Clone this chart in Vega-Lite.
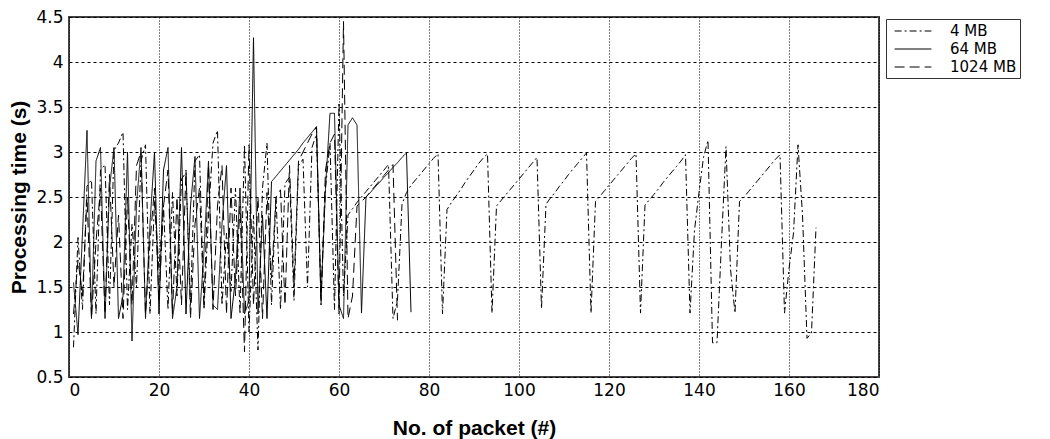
{
  "$schema": "https://vega.github.io/schema/vega-lite/v6.json",
  "autosize": {"type": "none"},
  "padding": {"left": 69, "top": 17, "right": 171, "bottom": 62},
  "width": 810,
  "height": 360,
  "background": "white",
  "config": {
    "view": {"stroke": "#444", "strokeWidth": 2},
    "axis": {"domain": false, "ticks": false, "gridColor": "#000", "gridOpacity": 1, "gridWidth": 1,
      "labelFont": "DejaVu Sans", "labelFontSize": 17, "labelColor": "black",
      "titleFont": "Liberation Sans", "titleFontSize": 21, "titleFontWeight": "bold", "titleColor": "black"}
  },
  "data": {"values": [
    {"size":"4 MB","packet":1,"time":0.83},{"size":"4 MB","packet":2,"time":2.05},{"size":"4 MB","packet":3,"time":1.25},{"size":"4 MB","packet":4,"time":2.62},{"size":"4 MB","packet":5,"time":2.69},{"size":"4 MB","packet":6,"time":1.2},{"size":"4 MB","packet":7,"time":2.8},{"size":"4 MB","packet":8,"time":2.86},{"size":"4 MB","packet":9,"time":1.3},{"size":"4 MB","packet":10,"time":3.02},
    {"size":"4 MB","packet":11,"time":3.1},{"size":"4 MB","packet":12,"time":3.22},{"size":"4 MB","packet":13,"time":1.25},{"size":"4 MB","packet":14,"time":2.2},{"size":"4 MB","packet":15,"time":1.5},{"size":"4 MB","packet":16,"time":2.9},{"size":"4 MB","packet":17,"time":3.08},{"size":"4 MB","packet":18,"time":1.2},{"size":"4 MB","packet":19,"time":2.45},{"size":"4 MB","packet":20,"time":1.7},
    {"size":"4 MB","packet":21,"time":2.4},{"size":"4 MB","packet":22,"time":1.25},{"size":"4 MB","packet":23,"time":2.55},{"size":"4 MB","packet":24,"time":1.4},{"size":"4 MB","packet":25,"time":2.7},{"size":"4 MB","packet":26,"time":2.77},{"size":"4 MB","packet":27,"time":1.3},{"size":"4 MB","packet":28,"time":2.9},{"size":"4 MB","packet":29,"time":2.97},{"size":"4 MB","packet":30,"time":1.25},
    {"size":"4 MB","packet":31,"time":2.3},{"size":"4 MB","packet":32,"time":3.1},{"size":"4 MB","packet":33,"time":3.24},{"size":"4 MB","packet":34,"time":1.3},{"size":"4 MB","packet":35,"time":2.1},{"size":"4 MB","packet":36,"time":1.45},{"size":"4 MB","packet":37,"time":2.6},{"size":"4 MB","packet":38,"time":1.2},{"size":"4 MB","packet":39,"time":3.08},{"size":"4 MB","packet":40,"time":1.0},
    {"size":"4 MB","packet":41,"time":2.3},{"size":"4 MB","packet":42,"time":0.8},{"size":"4 MB","packet":43,"time":2.6},{"size":"4 MB","packet":44,"time":3.1},{"size":"4 MB","packet":45,"time":1.3},{"size":"4 MB","packet":46,"time":2.5},{"size":"4 MB","packet":47,"time":1.25},{"size":"4 MB","packet":48,"time":2.65},{"size":"4 MB","packet":49,"time":2.72},{"size":"4 MB","packet":50,"time":1.35},
    {"size":"4 MB","packet":51,"time":2.85},{"size":"4 MB","packet":52,"time":2.92},{"size":"4 MB","packet":53,"time":1.5},{"size":"4 MB","packet":54,"time":3.05},{"size":"4 MB","packet":55,"time":3.2},{"size":"4 MB","packet":56,"time":1.4},{"size":"4 MB","packet":57,"time":2.6},{"size":"4 MB","packet":58,"time":3.1},{"size":"4 MB","packet":59,"time":1.25},{"size":"4 MB","packet":60,"time":3.55},
    {"size":"4 MB","packet":61,"time":1.4},{"size":"4 MB","packet":62,"time":2.3},{"size":"4 MB","packet":63,"time":2.37},{"size":"4 MB","packet":64,"time":2.44},{"size":"4 MB","packet":65,"time":2.5},{"size":"4 MB","packet":66,"time":2.56},{"size":"4 MB","packet":67,"time":2.62},{"size":"4 MB","packet":68,"time":2.68},{"size":"4 MB","packet":69,"time":2.74},{"size":"4 MB","packet":70,"time":2.8},
    {"size":"4 MB","packet":71,"time":2.86},{"size":"4 MB","packet":72,"time":1.15},{"size":"4 MB","packet":73,"time":1.35},{"size":"4 MB","packet":74,"time":2.42},{"size":"4 MB","packet":75,"time":2.55},{"size":"4 MB","packet":76,"time":2.63},{"size":"4 MB","packet":77,"time":2.69},{"size":"4 MB","packet":78,"time":2.75},{"size":"4 MB","packet":79,"time":2.81},{"size":"4 MB","packet":80,"time":2.87},
    {"size":"4 MB","packet":81,"time":2.93},{"size":"4 MB","packet":82,"time":2.98},{"size":"4 MB","packet":83,"time":1.2},{"size":"4 MB","packet":84,"time":2.36},{"size":"4 MB","packet":85,"time":2.44},{"size":"4 MB","packet":86,"time":2.51},{"size":"4 MB","packet":87,"time":2.58},{"size":"4 MB","packet":88,"time":2.66},{"size":"4 MB","packet":89,"time":2.73},{"size":"4 MB","packet":90,"time":2.8},
    {"size":"4 MB","packet":91,"time":2.87},{"size":"4 MB","packet":92,"time":2.93},{"size":"4 MB","packet":93,"time":2.98},{"size":"4 MB","packet":94,"time":1.21},{"size":"4 MB","packet":95,"time":2.4},{"size":"4 MB","packet":96,"time":2.46},{"size":"4 MB","packet":97,"time":2.52},{"size":"4 MB","packet":98,"time":2.58},{"size":"4 MB","packet":99,"time":2.64},{"size":"4 MB","packet":100,"time":2.7},
    {"size":"4 MB","packet":101,"time":2.76},{"size":"4 MB","packet":102,"time":2.82},{"size":"4 MB","packet":103,"time":2.88},{"size":"4 MB","packet":104,"time":2.94},{"size":"4 MB","packet":105,"time":1.26},{"size":"4 MB","packet":106,"time":2.42},{"size":"4 MB","packet":107,"time":2.49},{"size":"4 MB","packet":108,"time":2.55},{"size":"4 MB","packet":109,"time":2.62},{"size":"4 MB","packet":110,"time":2.68},
    {"size":"4 MB","packet":111,"time":2.75},{"size":"4 MB","packet":112,"time":2.81},{"size":"4 MB","packet":113,"time":2.87},{"size":"4 MB","packet":114,"time":2.93},{"size":"4 MB","packet":115,"time":2.99},{"size":"4 MB","packet":116,"time":1.21},{"size":"4 MB","packet":117,"time":2.45},{"size":"4 MB","packet":118,"time":2.51},{"size":"4 MB","packet":119,"time":2.57},{"size":"4 MB","packet":120,"time":2.63},
    {"size":"4 MB","packet":121,"time":2.69},{"size":"4 MB","packet":122,"time":2.75},{"size":"4 MB","packet":123,"time":2.81},{"size":"4 MB","packet":124,"time":2.87},{"size":"4 MB","packet":125,"time":2.93},{"size":"4 MB","packet":126,"time":2.98},{"size":"4 MB","packet":127,"time":1.21},{"size":"4 MB","packet":128,"time":2.41},{"size":"4 MB","packet":129,"time":2.47},{"size":"4 MB","packet":130,"time":2.53},
    {"size":"4 MB","packet":131,"time":2.59},{"size":"4 MB","packet":132,"time":2.66},{"size":"4 MB","packet":133,"time":2.72},{"size":"4 MB","packet":134,"time":2.78},{"size":"4 MB","packet":135,"time":2.84},{"size":"4 MB","packet":136,"time":2.9},{"size":"4 MB","packet":137,"time":2.97},{"size":"4 MB","packet":138,"time":1.21},{"size":"4 MB","packet":139,"time":2.13},{"size":"4 MB","packet":140,"time":2.55},
    {"size":"4 MB","packet":141,"time":2.94},{"size":"4 MB","packet":142,"time":3.13},{"size":"4 MB","packet":143,"time":0.88},{"size":"4 MB","packet":144,"time":0.88},{"size":"4 MB","packet":145,"time":2.0},{"size":"4 MB","packet":146,"time":3.06},{"size":"4 MB","packet":147,"time":1.7},{"size":"4 MB","packet":148,"time":1.21},{"size":"4 MB","packet":149,"time":2.45},{"size":"4 MB","packet":150,"time":2.5},
    {"size":"4 MB","packet":151,"time":2.56},{"size":"4 MB","packet":152,"time":2.62},{"size":"4 MB","packet":153,"time":2.68},{"size":"4 MB","packet":154,"time":2.74},{"size":"4 MB","packet":155,"time":2.8},{"size":"4 MB","packet":156,"time":2.86},{"size":"4 MB","packet":157,"time":2.92},{"size":"4 MB","packet":158,"time":2.97},{"size":"4 MB","packet":159,"time":1.21},{"size":"4 MB","packet":160,"time":1.7},
    {"size":"4 MB","packet":161,"time":2.1},{"size":"4 MB","packet":162,"time":3.08},{"size":"4 MB","packet":163,"time":2.3},{"size":"4 MB","packet":164,"time":0.93},{"size":"4 MB","packet":165,"time":0.99},{"size":"4 MB","packet":166,"time":2.16},

    {"size":"64 MB","packet":1,"time":1.55},{"size":"64 MB","packet":2,"time":0.97},{"size":"64 MB","packet":3,"time":2.1},{"size":"64 MB","packet":4,"time":3.24},{"size":"64 MB","packet":5,"time":1.15},{"size":"64 MB","packet":6,"time":2.9},{"size":"64 MB","packet":7,"time":3.05},{"size":"64 MB","packet":8,"time":1.15},{"size":"64 MB","packet":9,"time":2.6},{"size":"64 MB","packet":10,"time":3.05},
    {"size":"64 MB","packet":11,"time":1.15},{"size":"64 MB","packet":12,"time":1.4},{"size":"64 MB","packet":13,"time":3.0},{"size":"64 MB","packet":14,"time":0.9},{"size":"64 MB","packet":15,"time":2.4},{"size":"64 MB","packet":16,"time":3.05},{"size":"64 MB","packet":17,"time":1.15},{"size":"64 MB","packet":18,"time":2.2},{"size":"64 MB","packet":19,"time":3.0},{"size":"64 MB","packet":20,"time":1.2},
    {"size":"64 MB","packet":21,"time":2.8},{"size":"64 MB","packet":22,"time":3.05},{"size":"64 MB","packet":23,"time":1.15},{"size":"64 MB","packet":24,"time":1.5},{"size":"64 MB","packet":25,"time":3.05},{"size":"64 MB","packet":26,"time":1.2},{"size":"64 MB","packet":27,"time":2.4},{"size":"64 MB","packet":28,"time":2.95},{"size":"64 MB","packet":29,"time":1.15},{"size":"64 MB","packet":30,"time":1.9},
    {"size":"64 MB","packet":31,"time":2.9},{"size":"64 MB","packet":32,"time":1.3},{"size":"64 MB","packet":33,"time":1.25},{"size":"64 MB","packet":34,"time":2.2},{"size":"64 MB","packet":35,"time":2.85},{"size":"64 MB","packet":36,"time":1.15},{"size":"64 MB","packet":37,"time":1.6},{"size":"64 MB","packet":38,"time":2.6},{"size":"64 MB","packet":39,"time":1.2},{"size":"64 MB","packet":40,"time":1.35},
    {"size":"64 MB","packet":41,"time":4.27},{"size":"64 MB","packet":42,"time":1.2},{"size":"64 MB","packet":43,"time":2.3},{"size":"64 MB","packet":44,"time":1.15},{"size":"64 MB","packet":45,"time":2.67},{"size":"64 MB","packet":46,"time":2.73},{"size":"64 MB","packet":47,"time":2.79},{"size":"64 MB","packet":48,"time":2.85},{"size":"64 MB","packet":49,"time":2.91},{"size":"64 MB","packet":50,"time":2.97},
    {"size":"64 MB","packet":51,"time":3.03},{"size":"64 MB","packet":52,"time":3.1},{"size":"64 MB","packet":53,"time":3.16},{"size":"64 MB","packet":54,"time":3.22},{"size":"64 MB","packet":55,"time":3.28},{"size":"64 MB","packet":56,"time":1.35},{"size":"64 MB","packet":57,"time":2.6},{"size":"64 MB","packet":58,"time":3.43},{"size":"64 MB","packet":59,"time":3.43},{"size":"64 MB","packet":60,"time":1.3},
    {"size":"64 MB","packet":61,"time":1.15},{"size":"64 MB","packet":62,"time":3.3},{"size":"64 MB","packet":63,"time":3.38},{"size":"64 MB","packet":64,"time":3.3},{"size":"64 MB","packet":65,"time":1.21},{"size":"64 MB","packet":66,"time":2.5},{"size":"64 MB","packet":67,"time":2.55},{"size":"64 MB","packet":68,"time":2.61},{"size":"64 MB","packet":69,"time":2.66},{"size":"64 MB","packet":70,"time":2.72},
    {"size":"64 MB","packet":71,"time":2.77},{"size":"64 MB","packet":72,"time":2.83},{"size":"64 MB","packet":73,"time":2.88},{"size":"64 MB","packet":74,"time":2.94},{"size":"64 MB","packet":75,"time":2.99},{"size":"64 MB","packet":76,"time":1.22},

    {"size":"1024 MB","packet":1,"time":1.2},{"size":"1024 MB","packet":2,"time":1.8},{"size":"1024 MB","packet":3,"time":1.4},{"size":"1024 MB","packet":4,"time":2.5},{"size":"1024 MB","packet":5,"time":1.15},{"size":"1024 MB","packet":6,"time":2.0},{"size":"1024 MB","packet":7,"time":2.6},{"size":"1024 MB","packet":8,"time":1.2},{"size":"1024 MB","packet":9,"time":2.75},{"size":"1024 MB","packet":10,"time":1.5},
    {"size":"1024 MB","packet":11,"time":2.3},{"size":"1024 MB","packet":12,"time":1.15},{"size":"1024 MB","packet":13,"time":2.5},{"size":"1024 MB","packet":14,"time":1.3},{"size":"1024 MB","packet":15,"time":2.85},{"size":"1024 MB","packet":16,"time":3.0},{"size":"1024 MB","packet":17,"time":1.2},{"size":"1024 MB","packet":18,"time":2.0},{"size":"1024 MB","packet":19,"time":2.6},{"size":"1024 MB","packet":20,"time":1.35},
    {"size":"1024 MB","packet":21,"time":2.4},{"size":"1024 MB","packet":22,"time":2.8},{"size":"1024 MB","packet":23,"time":1.2},{"size":"1024 MB","packet":24,"time":2.5},{"size":"1024 MB","packet":25,"time":1.3},{"size":"1024 MB","packet":26,"time":2.8},{"size":"1024 MB","packet":27,"time":1.15},{"size":"1024 MB","packet":28,"time":2.2},{"size":"1024 MB","packet":29,"time":2.6},{"size":"1024 MB","packet":30,"time":1.3},
    {"size":"1024 MB","packet":31,"time":2.85},{"size":"1024 MB","packet":32,"time":1.25},{"size":"1024 MB","packet":33,"time":2.4},{"size":"1024 MB","packet":34,"time":2.85},{"size":"1024 MB","packet":35,"time":1.2},{"size":"1024 MB","packet":36,"time":2.6},{"size":"1024 MB","packet":37,"time":1.4},{"size":"1024 MB","packet":38,"time":2.4},{"size":"1024 MB","packet":39,"time":0.78},{"size":"1024 MB","packet":40,"time":3.08},
    {"size":"1024 MB","packet":41,"time":1.3},{"size":"1024 MB","packet":42,"time":2.5},{"size":"1024 MB","packet":43,"time":1.15},{"size":"1024 MB","packet":44,"time":2.55},{"size":"1024 MB","packet":45,"time":1.6},{"size":"1024 MB","packet":46,"time":2.5},{"size":"1024 MB","packet":47,"time":2.58},{"size":"1024 MB","packet":48,"time":1.3},{"size":"1024 MB","packet":49,"time":2.85},{"size":"1024 MB","packet":50,"time":1.5},
    {"size":"1024 MB","packet":51,"time":2.9},{"size":"1024 MB","packet":52,"time":3.0},{"size":"1024 MB","packet":53,"time":3.1},{"size":"1024 MB","packet":54,"time":3.2},{"size":"1024 MB","packet":55,"time":3.28},{"size":"1024 MB","packet":56,"time":1.3},{"size":"1024 MB","packet":57,"time":2.8},{"size":"1024 MB","packet":58,"time":3.1},{"size":"1024 MB","packet":59,"time":3.2},{"size":"1024 MB","packet":60,"time":1.2},
    {"size":"1024 MB","packet":61,"time":4.45},{"size":"1024 MB","packet":62,"time":1.15},{"size":"1024 MB","packet":63,"time":1.4},{"size":"1024 MB","packet":64,"time":2.4},{"size":"1024 MB","packet":65,"time":2.45},{"size":"1024 MB","packet":66,"time":2.5},{"size":"1024 MB","packet":67,"time":2.56},{"size":"1024 MB","packet":68,"time":2.62},{"size":"1024 MB","packet":69,"time":2.68},{"size":"1024 MB","packet":70,"time":2.74},
    {"size":"1024 MB","packet":71,"time":2.8},{"size":"1024 MB","packet":72,"time":2.86},{"size":"1024 MB","packet":73,"time":1.13}
  ]},
  "mark": {"type": "line", "color": "black", "strokeWidth": 1, "clip": true},
  "encoding": {
    "x": {"field": "packet", "type": "quantitative",
      "scale": {"domain": [0, 180], "nice": false},
      "axis": {"values": [0,20,40,60,80,100,120,140,160,180], "title": "No. of packet (#)", "labelPadding": 5, "titlePadding": 19, "gridDash": [1, 2]}},
    "y": {"field": "time", "type": "quantitative",
      "scale": {"domain": [0.5, 4.5], "nice": false, "zero": false},
      "axis": {"values": [0.5,1,1.5,2,2.5,3,3.5,4,4.5], "format": "~g", "title": "Processing time (s)", "labelPadding": 6, "titlePadding": 6, "gridDash": [3, 3]}},
    "strokeDash": {"field": "size", "type": "nominal",
      "scale": {"domain": ["4 MB", "64 MB", "1024 MB"], "range": [[7, 3, 2, 3], [1, 0], [10, 5]]},
      "legend": {"title": null, "orient": "none", "legendX": 817, "legendY": 2, "strokeColor": "#333", "fillColor": "white",
        "padding": 3, "symbolType": "M-2.3,0H2.3", "symbolSize": 256, "symbolStrokeWidth": 1.2, "symbolStrokeColor": "black",
        "symbolOffset": 15, "labelFont": "DejaVu Sans", "labelFontSize": 15, "labelColor": "black", "labelOffset": 28, "rowPadding": 1}}
  }
}
